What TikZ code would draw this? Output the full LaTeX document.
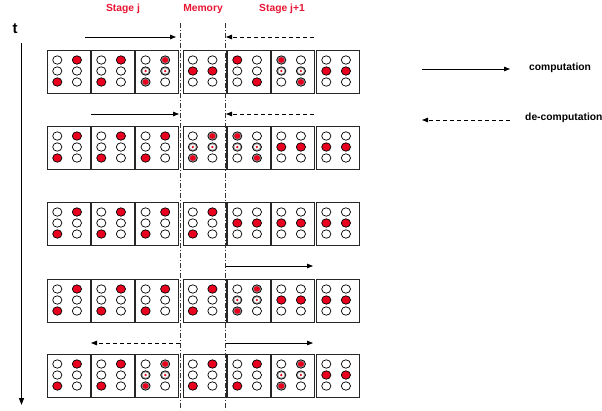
\documentclass[tikz,border=0pt]{standalone}
\usepackage{fontspec}
\setmainfont{Liberation Sans}
\usetikzlibrary{arrows.meta}
\definecolor{myred}{RGB}{232,0,30}
\definecolor{hdred}{RGB}{232,20,50}
\definecolor{ringgray}{RGB}{150,150,150}
\tikzset{
  cellbox/.style={draw=black!85, line width=0.8pt, minimum width=43pt, minimum height=43pt, anchor=north west, inner sep=0pt, fill=white},
  dotline/.style={draw=black, line width=0.7pt},
  sep/.style={draw=black!80, line width=0.6pt, dash pattern=on 5pt off 2pt on 1pt off 2pt},
  comp/.style={draw=black, line width=0.8pt, -{Triangle[length=6pt,width=4.5pt]}},
  decomp/.style={draw=black, line width=0.8pt, dash pattern=on 4pt off 3pt, -{Triangle[length=6pt,width=4.5pt]}},
  hdr/.style={text=hdred, font=\fontsize{10.3}{12}\selectfont\bfseries},
  lgd/.style={text=black, font=\fontsize{10.3}{12}\selectfont\bfseries, anchor=west, inner sep=0pt},
}
\newcommand\cE[2]{\draw[dotline, fill=white] (#1,#2) ellipse [x radius=4.6pt, y radius=4.2pt];}
\newcommand\cR[2]{\draw[dotline, fill=myred] (#1,#2) ellipse [x radius=4.6pt, y radius=4.2pt];}
\newcommand\cH[2]{\draw[dotline, fill=ringgray] (#1,#2) ellipse [x radius=4.6pt, y radius=4.2pt];
  \fill[white] (#1,#2) ellipse [x radius=3pt, y radius=2.7pt];
  \fill[myred] (#1,#2) circle [radius=1.3pt];}
\newcommand\cB[2]{\draw[dotline, fill=ringgray] (#1,#2) ellipse [x radius=4.6pt, y radius=4.2pt];
  \fill[myred] (#1,#2) ellipse [x radius=3.1pt, y radius=2.8pt];}
\def\pA{\cE,\cR,\cE,\cE,\cR,\cE}
\def\pB{\cE,\cB,\cH,\cH,\cB,\cE}
\def\pC{\cE,\cE,\cR,\cR,\cE,\cE}
\def\pD{\cR,\cE,\cE,\cE,\cE,\cR}
\def\pE{\cB,\cE,\cH,\cH,\cE,\cB}
\newcommand\drawcell[4]{%
  \node[cellbox] (#1) at (#2,#3) {};
  \foreach \c [count=\i from 0] in #4 {
    \pgfmathsetmacro\cx{#2+10.3+19.6*mod(\i,2)}
    \pgfmathsetmacro\cy{#3+10+11*int(\i/2)}
    \c{\cx}{\cy}
  }
}
\newcommand\drawrow[9]{% #1 row id, #2 y, #3..#9 patterns
  \drawcell{#1a}{47}{#2}{#3}
  \drawcell{#1b}{91}{#2}{#4}
  \drawcell{#1c}{135.3}{#2}{#5}
  \drawcell{#1d}{182.5}{#2}{#6}
  \drawcell{#1e}{227}{#2}{#7}
  \drawcell{#1f}{271}{#2}{#8}
  \drawcell{#1g}{316}{#2}{#9}
}
\begin{document}
\begin{tikzpicture}[x=1pt,y=-1pt]
\useasboundingbox (0,0) rectangle (602,410);
% headings
\node[hdr] (hj) at (123,9) {Stage j};
\node[hdr] (hm) at (203,9) {Memory};
\node[hdr] (hj1) at (282,9) {Stage j+1};
% time axis
\node[font=\fontsize{15}{16}\selectfont\bfseries, inner sep=0pt] (t) at (15,29) {t};
\coordinate (ttop) at (21.5,43);
\coordinate (tbot) at (21.5,405);
\draw[line width=1.5pt, -{Triangle[length=7pt,width=5pt]}] (ttop) -- (tbot);
% cells
\drawrow{r1}{50}{\pA}{\pA}{\pB}{\pC}{\pD}{\pE}{\pC}
\drawrow{r2}{126}{\pA}{\pA}{\pA}{\pB}{\pE}{\pC}{\pC}
\drawrow{r3}{202}{\pA}{\pA}{\pA}{\pA}{\pC}{\pC}{\pC}
\drawrow{r4}{279}{\pA}{\pA}{\pA}{\pA}{\pB}{\pC}{\pC}
\drawrow{r5}{354}{\pA}{\pA}{\pB}{\pA}{\pA}{\pB}{\pC}
% separators
\coordinate (s1t) at (180,23); \coordinate (s1b) at (180,410);
\coordinate (s2t) at (225.5,23); \coordinate (s2b) at (225.5,410);
\draw[sep] (s1t) -- (s1b);
\draw[sep] (s2t) -- (s2b);
% row arrows
\coordinate (a1s) at (85,37); \coordinate (a1e) at (176,37);
\coordinate (d1s) at (314,37); \coordinate (d1e) at (226,37);
\draw[comp] (a1s) -- (a1e);
\draw[decomp] (d1s) -- (d1e);
\coordinate (a2s) at (91,114); \coordinate (a2e) at (179,114);
\coordinate (d2s) at (314,114); \coordinate (d2e) at (226,114);
\draw[comp] (a2s) -- (a2e);
\draw[decomp] (d2s) -- (d2e);
\coordinate (a4s) at (226,266); \coordinate (a4e) at (313,266);
\draw[comp] (a4s) -- (a4e);
\coordinate (d5s) at (180,343); \coordinate (d5e) at (91,343);
\coordinate (a5s) at (226,343); \coordinate (a5e) at (313,343);
\draw[decomp] (d5s) -- (d5e);
\draw[comp] (a5s) -- (a5e);
% legend
\coordinate (l1s) at (422,69); \coordinate (l1e) at (510,69);
\draw[comp] (l1s) -- (l1e);
\node[lgd] (lc) at (529,68) {computation};
\coordinate (l2s) at (510,120); \coordinate (l2e) at (422,120);
\draw[decomp] (l2s) -- (l2e);
\node[lgd] (ld) at (525,118) {de-computation};
\end{tikzpicture}
\end{document}
